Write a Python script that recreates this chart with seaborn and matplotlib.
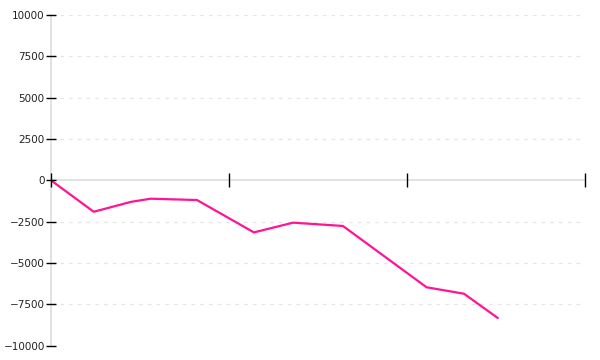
import matplotlib
matplotlib.use("Agg")
import matplotlib.pyplot as plt
import seaborn as sns
import pandas as pd

x_vals = [0, 2.4, 4.5, 5.6, 8.2, 11.4, 13.6, 16.4, 21.1, 23.2, 25.1]
y_vals = [0, -1900, -1300, -1110, -1190, -3150, -2560, -2760, -6470, -6860, -8330]
y_ticks = [-10000, -7500, -5000, -2500, 0, 2500, 5000, 7500, 10000]
x_ticks = [0, 10, 20, 30]

df = pd.DataFrame({"x": x_vals, "y": y_vals})

sns.set_style("white")
plt.rcParams['font.family'] = ['DejaVu Sans']

fig = plt.figure(figsize=(6, 3.6), dpi=100)
ax = fig.add_axes([0.085, 0.04, 0.89, 0.918])

sns.lineplot(data=df, x="x", y="y", ax=ax, color="#ff1493", linewidth=1.6)

ax.set_xlim(0, 30)
ax.set_ylim(-10000, 10000)
ax.set_yticks(y_ticks)
ax.set_yticklabels([str(v).replace("-", "\u2212") for v in y_ticks])
ax.set_xticks(x_ticks)
ax.set_xticklabels([])
ax.set_xlabel("")
ax.set_ylabel("")
ax.set_axisbelow(False)

for v in y_ticks:
    if v != 0:
        ax.axhline(v, color="#e6e6e6", linestyle=(0, (3, 4)), linewidth=0.9, zorder=0)

ax.spines["top"].set_visible(False)
ax.spines["right"].set_visible(False)
ax.spines["bottom"].set_position(("data", 0))
ax.spines["bottom"].set_color("#dddddd")
ax.spines["left"].set_color("#dddddd")
ax.spines["bottom"].set_linewidth(1.2)
ax.spines["left"].set_linewidth(1.2)
ax.spines["bottom"].set_zorder(0.5)
ax.spines["left"].set_zorder(0.5)

ax.tick_params(axis="y", direction="inout", length=7, width=1, color="black",
               labelsize=7.5, labelcolor="#222222", pad=1, left=True)
ax.tick_params(axis="x", direction="inout", length=10, width=1, color="black",
               bottom=True)

fig.savefig("out.png", dpi=100)
